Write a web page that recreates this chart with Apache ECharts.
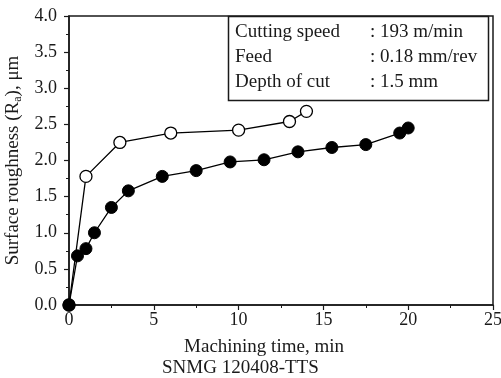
<!DOCTYPE html>
<html>
<head>
<meta charset="utf-8">
<script src="https://cdn.jsdelivr.net/npm/echarts@6/dist/echarts.min.js"></script>
<style>
    html, body { margin: 0; padding: 0; background: #fff; }
    #chart { width: 501px; height: 378px; }
</style>
</head>
<body>
<div id="chart"></div>
<script>
// machining time (min) / surface roughness Ra (um)
var closedTime = [0, 0.5, 1, 1.5, 2.5, 3.5, 5.5, 7.5, 9.5, 11.5, 13.5, 15.5, 17.5, 19.5, 20];
var closedRa = [0, 0.68, 0.78, 1.0, 1.35, 1.58, 1.78, 1.86, 1.98, 2.01, 2.12, 2.18, 2.22, 2.38, 2.45];
var openTime = [0, 1, 3, 6, 10, 13, 14];
var openRa = [0, 1.78, 2.25, 2.38, 2.42, 2.54, 2.68];

var condLabels = ['Cutting speed', 'Feed', 'Depth of cut'];
var condValues = [': 193 m/min', ': 0.18 mm/rev', ': 1.5 mm'];

var font = '"Liberation Serif", "DejaVu Serif", serif';
var ink = '#1a1a1a';

function pairs(xs, ys) {
    var arr = [];
    for (var i = 0; i < xs.length; i++) {
        arr.push([xs[i], ys[i]]);
    }
    return arr;
}

function roughnessChart(id) {
    var myChart = echarts.init(document.getElementById(id));

    var graphics = [{
        type: 'rect',
        shape: { x: 228.5, y: 16.5, width: 260, height: 84 },
        style: { fill: '#fff', stroke: ink, lineWidth: 1.5 },
        z: 10
    }];
    for (var i = 0; i < condLabels.length; i++) {
        graphics.push({
            type: 'text', left: 235, top: 23 + i * 25, z: 11,
            style: { text: condLabels[i], font: '19px ' + font, fill: ink }
        });
        graphics.push({
            type: 'text', left: 370, top: 23 + i * 25, z: 11,
            style: { text: condValues[i], font: '19px ' + font, fill: ink }
        });
    }
    graphics.push({
        type: 'text', left: 162, top: 359,
        style: { text: 'SNMG 120408-TTS', font: '19px ' + font, fill: ink }
    });

    var axisCommon = {
        type: 'value',
        splitLine: { show: false },
        axisLine: { lineStyle: { color: ink, width: 1.5 } },
        axisTick: { length: 5, lineStyle: { color: ink, width: 1.2 } },
        minorTick: { show: true, splitNumber: 2, length: 3, lineStyle: { color: ink, width: 1 } },
        axisLabel: { color: ink, fontFamily: font, fontSize: 18 },
        nameTextStyle: { color: ink, fontFamily: font, fontSize: 19 }
    };

    var option = {
        animation: false,
        backgroundColor: '#fff',
        grid: {
            left: 69, right: 8, top: 16, bottom: 73,
            outerBoundsMode: 'none',
            containLabel: false,
            show: true, borderColor: ink, borderWidth: 1.5
        },
        graphic: graphics,
        xAxis: echarts.util.merge({
            min: 0, max: 25, interval: 5,
            name: 'Machining time, min',
            nameLocation: 'middle',
            nameGap: 33,
            axisLabel: { margin: 6 },
            nameTextStyle: { padding: [0, 34, 0, 0] }
        }, axisCommon),
        yAxis: echarts.util.merge({
            min: 0, max: 4, interval: 0.5,
            name: 'Surface roughness (R{sub|a}), μm',
            nameLocation: 'middle',
            nameGap: 42,
            axisLabel: {
                margin: 12,
                formatter: function (v) { return v.toFixed(1); }
            },
            nameTextStyle: {
                rich: {
                    sub: { fontFamily: font, fontSize: 12, color: ink, padding: [9, 0, 0, 0] }
                }
            }
        }, axisCommon),
        series: [{
            name: 'open',
            type: 'line',
            symbol: 'circle',
            symbolSize: 12,
            itemStyle: { color: '#fff', borderColor: '#000', borderWidth: 1.3 },
            lineStyle: { color: '#000', width: 1.3 },
            data: pairs(openTime, openRa)
        }, {
            name: 'closed',
            type: 'line',
            symbol: 'circle',
            symbolSize: 12,
            itemStyle: { color: '#000', borderColor: '#000', borderWidth: 1 },
            lineStyle: { color: '#000', width: 1.3 },
            data: pairs(closedTime, closedRa)
        }]
    };
    myChart.setOption(option);
    return myChart;
}

var chart = roughnessChart('chart');
</script>
</body>
</html>
